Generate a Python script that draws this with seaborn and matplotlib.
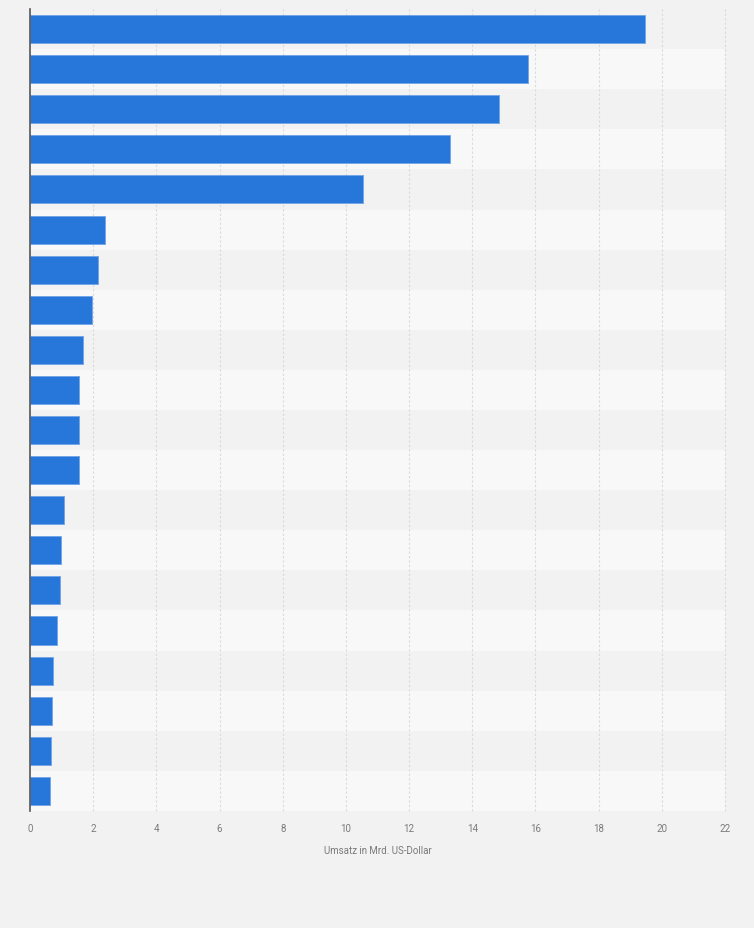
import pandas as pd
import matplotlib.pyplot as plt
import seaborn as sns

# ranks (no category labels are shown in the chart)
ranks = [str(i) for i in range(1, 21)]
umsatz = [19.46, 15.75, 14.85, 13.28, 10.55, 2.38, 2.16, 1.97, 1.68, 1.56,
          1.56, 1.56, 1.08, 0.98, 0.96, 0.86, 0.74, 0.71, 0.67, 0.64]
x_ticks = list(range(0, 23, 2))
x_label = 'Umsatz in Mrd. US-Dollar'

df = pd.DataFrame({'rank': ranks, 'umsatz': umsatz})

sns.set_style('white')
plt.rcParams['font.family'] = ['Roboto', 'DejaVu Sans']

fig = plt.figure(figsize=(7.54, 9.29), dpi=100, facecolor='#f2f2f2')
ax = fig.add_axes([0.0398, 0.126, 0.9217, 0.8632])
ax.set_facecolor('#f2f2f2')

# alternating row bands
for i in range(len(ranks)):
    ax.axhspan(i - 0.5, i + 0.5, color='#f2f2f2' if i % 2 == 0 else '#f8f8f8', zorder=0, lw=0)

sns.barplot(data=df, x='umsatz', y='rank', orient='h', color='#2777db', saturation=1,
            width=0.7, edgecolor='#6fa3e8', linewidth=0.6, ax=ax, zorder=3)

ax.set_xlim(0, 22)
ax.set_ylim(len(ranks) - 0.5, -0.5)
ax.set_xticks(x_ticks)
ax.set_xticklabels([str(t) for t in x_ticks], fontsize=7, color='#7a7a7a')
ax.tick_params(axis='x', length=0, pad=9)
ax.set_yticks([])
ax.set_ylabel('')
ax.set_xlabel(x_label, fontsize=7, color='#7a7a7a', labelpad=8)

for t in x_ticks[1:]:
    ax.axvline(t, color='#dadada', lw=0.8, ls=(0, (2, 2)), zorder=1, clip_on=False)

for side in ['top', 'right', 'bottom']:
    ax.spines[side].set_visible(False)
ax.spines['left'].set_color('#555555')
ax.spines['left'].set_linewidth(1.2)
ax.spines['left'].set_zorder(5)

plt.savefig('out.png', dpi=100, facecolor=fig.get_facecolor())
